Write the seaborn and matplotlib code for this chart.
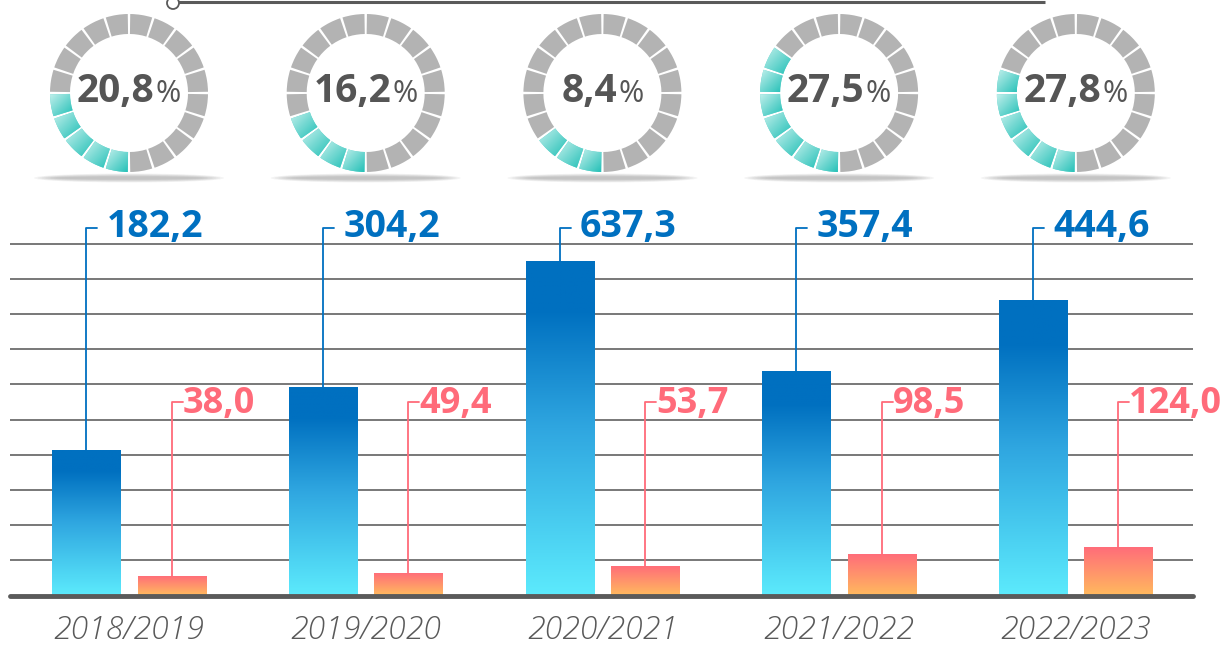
import numpy as np
import pandas as pd
import matplotlib
matplotlib.use('Agg')
import matplotlib.pyplot as plt
import seaborn as sns
from matplotlib.patches import Wedge, Ellipse, Circle
from matplotlib.colors import LinearSegmentedColormap
from matplotlib.offsetbox import TextArea, HPacker, AnnotationBbox

# Data
seasons = ['2018/2019', '2019/2020', '2020/2021', '2021/2022', '2022/2023']
blue_values = [182.2, 304.2, 637.3, 357.4, 444.6]
red_values = [38.0, 49.4, 53.7, 98.5, 124.0]
# bar heights as drawn (in gridline units, not proportional to the labels)
blue_heights = [4.12, 5.91, 9.49, 6.39, 8.40]
red_heights = [0.54, 0.65, 0.85, 1.19, 1.39]
share_pct = [20.8, 16.2, 8.4, 27.5, 27.8]
share_segments = [5, 4, 3, 7, 6]

BLUE = '#0070C0'
RED = '#FF6B7A'
GREY_TXT = '#555555'


def fmt(v):
    return f'{v:.1f}'.replace('.', ',')


sns.set_style('white')
plt.rcParams['font.family'] = ['Open Sans', 'DejaVu Sans']

W, H = 1223, 647
fig = plt.figure(figsize=(W / 100, H / 100), dpi=100)

x_left, x_right = 10, 1193
base_px, top_px = 595.5, 200
grid_px = 35.2
unit = 236.7          # px per category step
first_px = 129
xlim = ((x_left - first_px) / unit, (x_right - first_px) / unit)

# ---------------- bar chart ----------------
ax = fig.add_axes([x_left / W, (H - base_px) / H, (x_right - x_left) / W, (base_px - top_px) / H])

df = pd.DataFrame({
    'season': seasons * 2,
    'series': ['blue'] * 5 + ['red'] * 5,
    'height': blue_heights + red_heights,
})
sns.barplot(data=df, x='season', y='height', hue='series', order=seasons,
            hue_order=['blue', 'red'], palette=[BLUE, RED], width=0.72, gap=0.2,
            errorbar=None, legend=False, ax=ax, zorder=3)

blue_cmap = LinearSegmentedColormap.from_list(
    'b', [(0, '#5CEAFC'), (0.5, '#2FA6E0'), (0.85, BLUE), (1, BLUE)])
red_cmap = LinearSegmentedColormap.from_list('r', [(0, '#FFB95E'), (1, RED)])


def fill_gradient(bar, cmap):
    x, y = bar.get_x(), bar.get_y()
    w, h = bar.get_width(), bar.get_height()
    grad = np.linspace(0, 1, 256).reshape(-1, 1)
    im = ax.imshow(grad, extent=[x, x + w, y, y + h], origin='lower',
                   aspect='auto', cmap=cmap, zorder=3.5)
    im.set_clip_path(bar)
    bar.set_facecolor('none')
    bar.set_linewidth(0)


for bar in ax.containers[0]:
    fill_gradient(bar, blue_cmap)
for bar in ax.containers[1]:
    fill_gradient(bar, red_cmap)

# leader lines + value labels
blue_tick_y, blue_text_y = (base_px - 228) / grid_px, (base_px - 237) / grid_px
red_tick_y, red_text_y = (base_px - 402) / grid_px, (base_px - 413) / grid_px
tick_len = 11 / unit

for bar, v in zip(ax.containers[0], blue_values):
    xc = bar.get_x() + bar.get_width() / 2
    ax.plot([xc, xc, xc + tick_len], [bar.get_height(), blue_tick_y, blue_tick_y],
            color=BLUE, lw=1.3, zorder=4)
    ax.text(xc + 0.085, blue_text_y, fmt(v), color=BLUE, fontsize=27,
            fontweight='bold', ha='left', va='baseline', zorder=6)

for bar, v in zip(ax.containers[1], red_values):
    xc = bar.get_x() + bar.get_width() / 2
    ax.plot([xc, xc, xc + tick_len], [bar.get_height(), red_tick_y, red_tick_y],
            color=RED, lw=1.3, zorder=4)
    ax.text(xc + 0.046, red_text_y, fmt(v), color=RED, fontsize=26,
            fontweight='bold', ha='left', va='baseline', zorder=6, clip_on=False)

ax.set_yticks(range(1, 11))
ax.yaxis.grid(True, color='#787878', lw=1.4)
ax.xaxis.grid(False)
ax.set_axisbelow(True)
ax.tick_params(axis='y', left=False, labelleft=False)
ax.set_xticks(range(len(seasons)))
ax.set_xticklabels(seasons, fontsize=23, style='italic', fontweight='light', color='#595959')
ax.tick_params(axis='x', length=0, pad=14)
ax.set_xlabel('')
ax.set_ylabel('')
ax.axhline(0, color='#5a5a5a', lw=3.5, solid_capstyle='round', zorder=5, clip_on=False)
sns.despine(ax=ax, left=True, bottom=True)
ax.set_xlim(xlim)
ax.set_ylim(0, (base_px - top_px) / grid_px)

# ---------------- rings on top ----------------
top_h = 190
ax_top = fig.add_axes([x_left / W, (H - top_h) / H, (x_right - x_left) / W, top_h / H])
ax_top.axis('off')

r_out = 79 / unit
thick = 20 / unit
cy = (top_h - 93) / unit
teal_cmap = LinearSegmentedColormap.from_list('t', ['#C2F0EC', '#24C0B7'])
xs = np.linspace(0, 1, 40)
diag = (xs[None, :] + (1 - xs[:, None])) / 2

for i, (pct, nseg) in enumerate(zip(share_pct, share_segments)):
    # soft shadow under each ring
    sy = (top_h - 178) / unit
    for k in range(6):
        ax_top.add_patch(Ellipse((i, sy), (190 - 8 * k) / unit, (9 - 1.2 * k) / unit,
                                 color='#606060', alpha=0.07, lw=0))
    for k in range(20):
        t2 = 270 - 18 * k - 0.9
        t1 = 270 - 18 * (k + 1) + 0.9
        if k < nseg:
            wd = Wedge((i, cy), r_out, t1, t2, width=thick, facecolor='#5fd3cc', lw=0)
            ax_top.add_patch(wd)
            ang = np.radians(np.linspace(t1, t2, 12))
            px = np.concatenate([i + r_out * np.cos(ang), i + (r_out - thick) * np.cos(ang)])
            py = np.concatenate([cy + r_out * np.sin(ang), cy + (r_out - thick) * np.sin(ang)])
            im = ax_top.imshow(diag, extent=[px.min(), px.max(), py.min(), py.max()],
                               origin='lower', aspect='auto', cmap=teal_cmap, zorder=2)
            im.set_clip_path(wd)
        else:
            ax_top.add_patch(Wedge((i, cy), r_out, t1, t2, width=thick,
                                   facecolor='#b3b3b3', lw=0))
    num = TextArea(fmt(pct), textprops=dict(fontsize=28, fontweight='bold', color=GREY_TXT))
    sign = TextArea('%', textprops=dict(fontsize=22, color=GREY_TXT))
    pack = HPacker(children=[num, sign], align='baseline', pad=0, sep=1)
    ax_top.add_artist(AnnotationBbox(pack, (i, cy), frameon=False,
                                     box_alignment=(0.5, 0.45), pad=0))

# thin line with open circle at the very top
line_y = (top_h - 2.5) / unit
x_start = (173 - first_px) / unit
x_end = (1045 - first_px) / unit
ax_top.plot([x_start, x_end], [line_y, line_y], color='#5a5a5a', lw=2.2,
            solid_capstyle='butt', clip_on=False, zorder=3)
ax_top.add_patch(Circle((x_start, (top_h - 3) / unit), 6 / unit, facecolor='white',
                        edgecolor='#5a5a5a', lw=1.3, zorder=4, clip_on=False))

ax_top.set_xlim(xlim)
ax_top.set_ylim(0, top_h / unit)

fig.savefig('out.png', dpi=100)
